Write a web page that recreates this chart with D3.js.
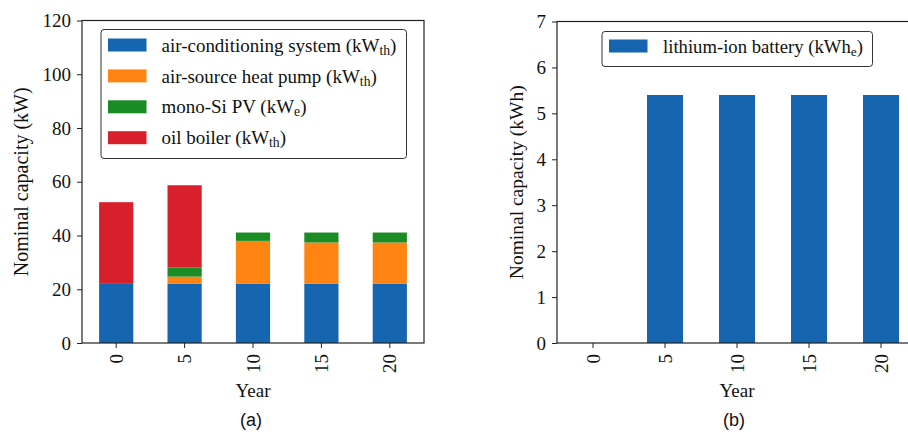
<!DOCTYPE html>
<html>
<head>
<meta charset="utf-8">
<script src="https://cdn.jsdelivr.net/npm/d3@7"></script>
<style>
  body { margin: 0; background: #fff; }
</style>
</head>
<body>
<svg id="chart" width="908" height="433" style="font-family: 'Liberation Serif', serif;"></svg>
<script>
// ---------------------------------------------------------------
// data
// ---------------------------------------------------------------
var years = ["0", "5", "10", "15", "20"];

var air_conditioning = [22, 22, 22, 22, 22];
var heat_pump        = [0, 2.7, 16, 15.4, 15.4];
var mono_si_pv       = [0, 3.4, 3.1, 3.7, 3.7];
var oil_boiler       = [30.4, 30.6, 0, 0, 0];

var battery = [0, 5.4, 5.4, 5.4, 5.4];

var ticks_a = [0, 20, 40, 60, 80, 100, 120];
var ticks_b = [0, 1, 2, 3, 4, 5, 6, 7];

var series_a = [
  { name: "air-conditioning system (kW", sub: "th", values: air_conditioning, color: "#1565b0" },
  { name: "air-source heat pump (kW",    sub: "th", values: heat_pump,        color: "#ff8412" },
  { name: "mono-Si PV (kW",              sub: "e",  values: mono_si_pv,       color: "#1b8c24" },
  { name: "oil boiler (kW",              sub: "th", values: oil_boiler,       color: "#d8202c" }
];
var series_b = [
  { name: "lithium-ion battery (kWh", sub: "e", values: battery, color: "#1565b0" }
];

var fs = 19;   // font size for ticks
var serif = "'Liberation Serif', 'Times New Roman', serif";
var svg = d3.select("#chart");

// ---------------------------------------------------------------
function label_with_sub(sel, name, sub)
{
  sel.append("tspan").text(name);
  sel.append("tspan").attr("dy", 3).style("font-size", "72%").text(sub);
  sel.append("tspan").attr("dy", -3).text(")");
}

// ---------------------------------------------------------------
function draw_panel(box, series, ticks, ymax, ylabel, tag, legend_box)
{
  var g = svg.append("g");

  var x = d3.scaleBand()
            .domain(years)
            .range([box.left, box.right])
            .paddingInner(0.5)
            .paddingOuter(0.25);
  var y = d3.scaleLinear()
            .domain([0, ymax])
            .range([box.bottom, box.top]);

  // stacked bars
  var table = years.map(function(yr, i) {
    var row = { year: yr };
    series.forEach(function(s, k) { row["s" + k] = s.values[i]; });
    return row;
  });
  var stack = d3.stack().keys(series.map(function(s, k) { return "s" + k; }))(table);

  g.append("defs").append("clipPath").attr("id", "clip_" + tag)
   .append("rect")
   .attr("x", box.left).attr("y", box.top)
   .attr("width", box.right - box.left).attr("height", box.bottom - box.top);

  stack.forEach(function(layer, k) {
    g.append("g")
     .attr("clip-path", "url(#clip_" + tag + ")")
     .selectAll("rect")
     .data(layer)
     .enter()
     .append("rect")
     .attr("x", function(d) { return x(d.data.year); })
     .attr("width", x.bandwidth())
     .attr("y", function(d) { return y(d[1]); })
     .attr("height", function(d) { return y(d[0]) - y(d[1]); })
     .style("fill", series[k].color);
  });

  // axes
  var x_axis = g.append("g")
                .attr("transform", "translate(0," + box.bottom + ")")
                .call(d3.axisBottom(x).tickSize(5).tickPadding(6));
  x_axis.selectAll("text")
        .attr("transform", "rotate(-90)")
        .attr("x", -11)
        .attr("y", 0)
        .attr("dy", "0.35em")
        .style("text-anchor", "end");

  var y_axis = g.append("g")
                .attr("transform", "translate(" + box.left + ",0)")
                .call(d3.axisLeft(y).tickValues(ticks).tickFormat(d3.format("d")).tickSize(5).tickPadding(6));

  [x_axis, y_axis].forEach(function(a) {
    a.attr("font-family", null).attr("font-size", null);
    a.select(".domain").remove();
    a.selectAll("line").style("stroke", "#222");
    a.selectAll("text").style("font-size", fs + "px").style("font-family", serif).style("fill", "#111");
  });

  // frame
  g.append("rect")
   .attr("x", box.left).attr("y", box.top)
   .attr("width", box.right - box.left).attr("height", box.bottom - box.top)
   .style("fill", "none").style("stroke", "#222").style("stroke-width", 1.2);

  // axis titles
  g.append("text")
   .attr("transform", "translate(" + box.ylab + "," + ((box.top + box.bottom) / 2) + ") rotate(-90)")
   .attr("dy", "0.35em")
   .style("text-anchor", "middle")
   .style("font-size", box.labfs + "px")
   .style("font-family", serif)
   .style("fill", "#111")
   .text(ylabel);

  g.append("text")
   .attr("x", (box.left + box.right) / 2)
   .attr("y", 397)
   .style("text-anchor", "middle")
   .style("font-size", fs + "px")
   .style("font-family", serif)
   .style("fill", "#111")
   .text("Year");

  g.append("text")
   .attr("x", box.tagx)
   .attr("y", 426)
   .style("text-anchor", "middle")
   .style("font-size", "18px")
   .style("font-family", "'Liberation Sans', Arial, sans-serif")
   .style("fill", "#111")
   .text("(" + tag + ")");

  // legend
  var lg = g.append("g");
  lg.append("rect")
    .attr("x", legend_box.x).attr("y", legend_box.y)
    .attr("width", legend_box.w).attr("height", legend_box.h)
    .attr("rx", 3)
    .style("fill", "rgba(255,255,255,0.85)")
    .style("stroke", "#333")
    .style("stroke-width", 1);

  var items = lg.selectAll(".item")
                .data(series)
                .enter()
                .append("g")
                .attr("class", "item")
                .attr("transform", function(d, i) {
                  return "translate(" + (legend_box.x + 7) + "," + (legend_box.y + legend_box.first + i * 30.9) + ")";
                });

  items.append("rect")
       .attr("x", 0).attr("y", -6.5)
       .attr("width", 38.5).attr("height", 13)
       .style("fill", function(d) { return d.color; });

  var labels = items.append("text")
       .attr("x", legend_box.textx)
       .attr("dy", "0.35em")
       .style("font-size", fs + "px")
       .style("font-family", serif)
       .style("fill", "#111")
       .each(function(d) { label_with_sub(d3.select(this), d.name, d.sub); });

  // size the legend text so the first entry spans the width seen in the picture
  var w0 = labels.node().getBBox().width;
  labels.style("font-size", (fs * legend_box.span / w0) + "px");
}

// ---------------------------------------------------------------
draw_panel({ left: 82, right: 424, top: 20.5, bottom: 343, ylab: 21, tagx: 251, labfs: 20 },
           series_a, ticks_a, 120, "Nominal capacity (kW)", "a",
           { x: 101, y: 29.5, w: 305.5, h: 129, first: 15.5, span: 235, textx: 53.5 });

draw_panel({ left: 557, right: 917, top: 21.5, bottom: 343, ylab: 516, tagx: 734, labfs: 19.5 },
           series_b, ticks_b, 7, "Nominal capacity (kWh)", "b",
           { x: 602, y: 31.5, w: 270.5, h: 35, first: 14.5, span: 200, textx: 54 });
</script>
</body>
</html>
